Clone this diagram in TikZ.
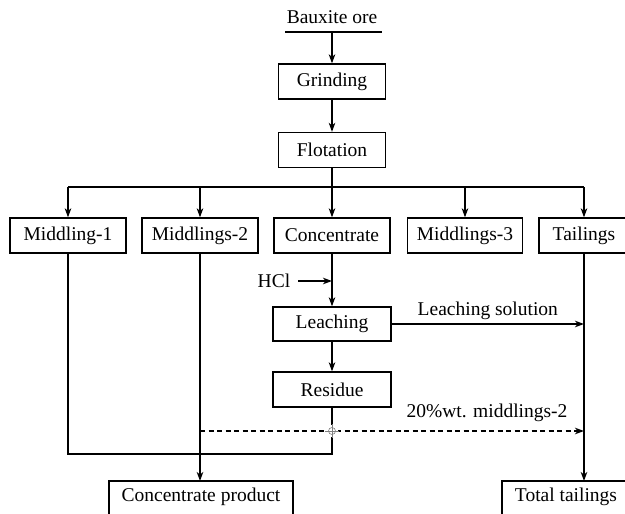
\documentclass[tikz,border=0pt]{standalone}
\usepackage{fontspec}
\setmainfont{Liberation Serif}
\usetikzlibrary{arrows.meta}
\begin{document}
\begin{tikzpicture}[x=1pt,y=-1pt,
  every node/.style={font=\fontsize{19.5}{22}\selectfont},
  box/.style={draw,line width=1.3pt,minimum height=35pt,inner sep=0pt},
  flow/.style={line width=1.3pt},
  arr/.style={flow,-{Stealth[length=9pt,width=6.5pt,inset=2.5pt]}},
  dash flow/.style={arr,dash pattern=on 5pt off 3.5pt}]
\useasboundingbox (0,0) rectangle (625,514);
\clip (0,0) rectangle (625,514);
% top
\node (ore) at (332,17) {Bauxite ore};
\coordinate (oreL) at (285,32);
\coordinate (oreR) at (382,32);
\coordinate (oreB) at (332,32);
\draw[flow] (oreL) -- (oreR);
\node[box,minimum width=107pt] (grind) at (332,81.5) {Grinding};
\node[box,minimum width=107pt] (flot) at (332,150) {Flotation};
\draw[arr] (oreB) -- (grind.north);
\draw[arr] (grind) -- (flot);
% row
\node[box,minimum width=116pt] (m1) at (68,235.5) {Middling-1};
\node[box,minimum width=116pt] (m2) at (200,235.5) {Middlings-2};
\node[box,minimum width=116pt] (conc) at (332,235.5) {Concentrate};
\node[box,minimum width=115pt] (m3) at (465,235.5) {Middlings-3};
\node[box,minimum width=90pt] (tail) at (584,235.5) {Tailings};
% bus
\coordinate (bc) at (332,187);
\coordinate (b1) at (68,187);
\coordinate (b2) at (200,187);
\coordinate (b4) at (465,187);
\coordinate (b5) at (584,187);
\draw[flow] (flot.south) -- (bc);
\draw[flow] (b1) -- (b5);
\draw[arr] (b1) -- (m1.north);
\draw[arr] (b2) -- (m2.north);
\draw[arr] (bc) -- (conc.north);
\draw[arr] (b4) -- (m3.north);
\draw[arr] (b5) -- (tail.north);
% leaching
\node[box,minimum width=118pt,minimum height=34pt] (leach) at (332,324) {Leaching};
\node[box,minimum width=118pt] (res) at (332,389.5) {Residue};
\draw[arr] (conc.south) -- (leach.north);
\draw[arr] (leach) -- (res);
\node (hcl) at (274,281) {HCl};
\coordinate (hclS) at (298,281);
\coordinate (hclE) at (332,281);
\draw[arr] (hclS) -- (hclE);
% bottom boxes
\node[box,minimum width=184pt,minimum height=40pt] (cprod) at (201,501) {};
\node at (201,497) {Concentrate product};
\node[box,minimum width=128pt,minimum height=40pt] (tt) at (566,501) {};
\node at (566,497) {Total tailings};
% leaching solution
\coordinate (ls) at (584,324);
\draw[arr] (leach.east) -- (ls) node[midway,above=0pt] {Leaching solution};
% tailings line
\coordinate (ttT) at (584,481);
\draw[arr] (tail.south) -- (ttT);
% middling-1 / residue loop
\coordinate (m1B) at (68,454);
\coordinate (rB) at (332,454);
\draw[flow] (m1.south) -- (m1B) -- (rB) -- (res.south);
% middlings-2 to product
\coordinate (cpT) at (200,481);
\draw[arr] (m2.south) -- (cpT);
% dashed
\coordinate (dS) at (200,431);
\coordinate (dE) at (584,431);
\draw[dash flow] (dS) -- (dE);
\node (pct) at (487,413) {20\%wt. middlings-2};
% cursor artifact
\coordinate (cur) at (332,431);
\fill[white] (cur) circle (6pt);
\draw[gray,line width=0.6pt] ([xshift=-7pt]cur) -- ([xshift=7pt]cur);
\draw[gray,line width=0.6pt] ([yshift=-7pt]cur) -- ([yshift=7pt]cur);
\draw[gray,line width=0.6pt] (cur) circle (3.5pt);
\end{tikzpicture}
\end{document}
